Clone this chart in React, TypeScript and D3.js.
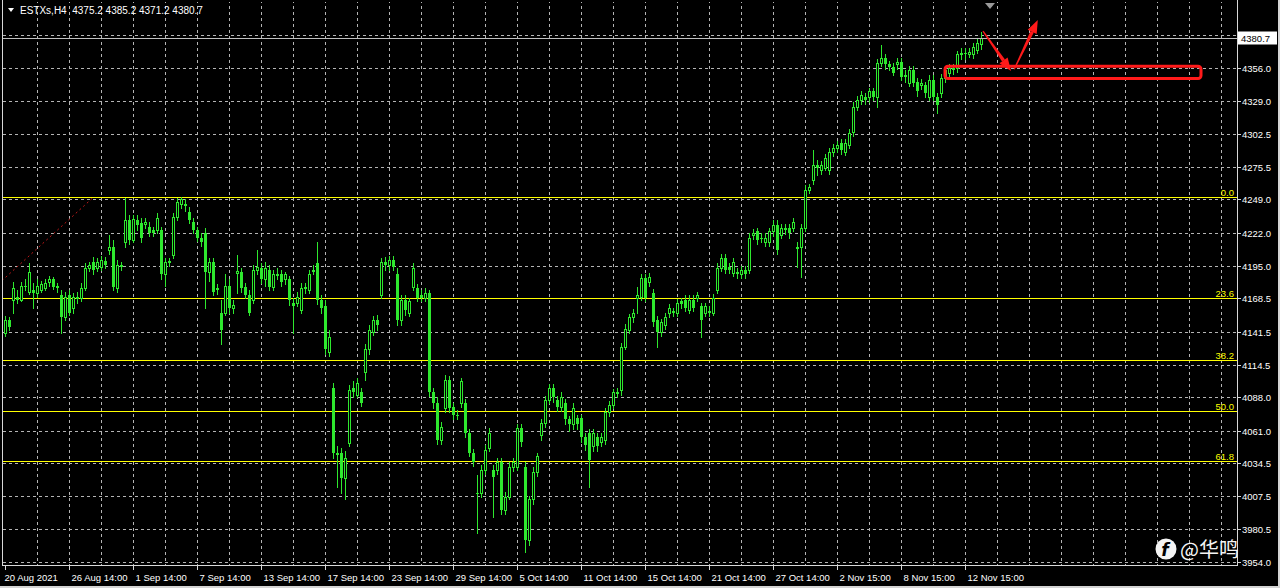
import React, { useEffect, useRef } from "react";
import * as d3 from "d3";

const symbol = "ESTXs";
const period = "H4";

// H4 candles, 20 Aug 2021 .. 12 Nov 2021
const opens = [
  4140, 4151, 4167, 4170, 4167, 4179, 4174, 4175, 4173, 4175,
  4177, 4182, 4184, 4179, 4171, 4153, 4171, 4161, 4170, 4169,
  4177, 4193, 4198, 4193, 4194, 4199, 4208, 4210, 4177, 4196,
  4214, 4232, 4216, 4232, 4230, 4229, 4227, 4224, 4224, 4224,
  4188, 4199, 4204, 4235, 4245, 4245, 4239, 4231, 4224, 4218,
  4222, 4190, 4198, 4177, 4157, 4157, 4179, 4161, 4189, 4190,
  4178, 4171, 4167, 4192, 4193, 4184, 4192, 4178, 4188, 4188,
  4184, 4184, 4165, 4165, 4159, 4178, 4175, 4191, 4197, 4167,
  4162, 4125, 4096, 4043, 4043, 4022, 4051, 4096, 4090, 4092,
  4109, 4127, 4141, 4151, 4171, 4198, 4196, 4200, 4188, 4151,
  4167, 4157, 4178, 4177, 4171, 4169, 4173, 4092, 4083, 4053,
  4079, 4102, 4080, 4074, 4083, 4083, 4059, 4043, 4010, 4010,
  4029, 4047, 4029, 4029, 4035, 3996, 4007, 4031, 4031, 4063,
  4031, 3972, 4005, 4027, 4057, 4067, 4086, 4096, 4086, 4080,
  4083, 4070, 4066, 4071, 4071, 4056, 4059, 4048, 4056, 4052,
  4053, 4076, 4082, 4092, 4094, 4129, 4143, 4153, 4169, 4170,
  4185, 4182, 4173, 4151, 4141, 4147, 4157, 4158, 4157, 4166,
  4167, 4159, 4167, 4169, 4162, 4157, 4158, 4157, 4175, 4193,
  4201, 4194, 4189, 4190, 4188, 4192, 4192, 4220, 4223, 4218,
  4214, 4214, 4223, 4228, 4220, 4226, 4226, 4226, 4210, 4210,
  4226, 4257, 4265, 4277, 4273, 4275, 4273, 4288, 4291, 4295,
  4288, 4293, 4304, 4324, 4330, 4332, 4332, 4337, 4332, 4360,
  4364, 4359, 4357, 4359, 4361, 4350, 4344, 4354, 4345, 4342,
  4342, 4332, 4346, 4332, 4336, 4348, 4352, 4356, 4356, 4367,
  4368, 4367, 4367, 4371, 4375.2,
];
const highs = [
  4154, 4153, 4182, 4175, 4182, 4184, 4197, 4181, 4184, 4183,
  4184, 4187, 4186, 4181, 4175, 4174, 4175, 4173, 4174, 4181,
  4197, 4198, 4202, 4201, 4203, 4202, 4220, 4216, 4200, 4198,
  4250, 4236, 4236, 4236, 4234, 4234, 4231, 4227, 4238, 4227,
  4201, 4201, 4238, 4250, 4251, 4249, 4243, 4234, 4227, 4222,
  4226, 4201, 4201, 4180, 4167, 4188, 4184, 4167, 4204, 4193,
  4181, 4175, 4196, 4208, 4197, 4198, 4196, 4192, 4193, 4192,
  4190, 4187, 4169, 4174, 4181, 4181, 4192, 4196, 4214, 4171,
  4167, 4143, 4100, 4048, 4047, 4044, 4098, 4101, 4104, 4096,
  4131, 4147, 4154, 4155, 4201, 4202, 4203, 4203, 4193, 4171,
  4171, 4169, 4197, 4180, 4175, 4177, 4175, 4096, 4088, 4068,
  4106, 4105, 4083, 4078, 4104, 4087, 4062, 4046, 4025, 4033,
  4049, 4063, 4033, 4039, 4039, 4011, 4035, 4039, 4066, 4066,
  4035, 4008, 4031, 4043, 4070, 4089, 4099, 4099, 4089, 4092,
  4087, 4073, 4083, 4074, 4074, 4059, 4062, 4062, 4059, 4059,
  4079, 4085, 4095, 4096, 4132, 4148, 4156, 4160, 4178, 4188,
  4188, 4189, 4176, 4154, 4152, 4157, 4164, 4161, 4168, 4169,
  4171, 4171, 4171, 4174, 4165, 4165, 4162, 4172, 4197, 4205,
  4205, 4197, 4201, 4193, 4195, 4195, 4222, 4225, 4226, 4222,
  4222, 4226, 4232, 4232, 4229, 4229, 4229, 4234, 4214, 4229,
  4261, 4262, 4289, 4281, 4280, 4286, 4291, 4294, 4297, 4298,
  4298, 4306, 4328, 4333, 4337, 4336, 4340, 4340, 4363, 4375,
  4367, 4362, 4360, 4364, 4364, 4354, 4358, 4358, 4348, 4347,
  4345, 4350, 4350, 4336, 4351, 4358, 4359, 4359, 4370, 4372,
  4372, 4372, 4376, 4380, 4385.2,
];
const lows = [
  4138, 4143, 4157, 4165, 4166, 4175, 4172, 4161, 4170, 4174,
  4175, 4179, 4176, 4174, 4140, 4151, 4155, 4157, 4165, 4166,
  4175, 4191, 4188, 4191, 4192, 4193, 4205, 4175, 4174, 4192,
  4210, 4213, 4214, 4224, 4214, 4226, 4219, 4219, 4222, 4184,
  4179, 4195, 4201, 4232, 4242, 4240, 4230, 4222, 4215, 4211,
  4161, 4183, 4171, 4172, 4131, 4155, 4157, 4157, 4173, 4174,
  4169, 4155, 4165, 4188, 4181, 4179, 4175, 4175, 4184, 4179,
  4180, 4163, 4140, 4162, 4157, 4173, 4173, 4188, 4164, 4157,
  4123, 4122, 4039, 4015, 4010, 4005, 4048, 4088, 4088, 4081,
  4102, 4123, 4139, 4143, 4169, 4192, 4192, 4192, 4147, 4147,
  4155, 4154, 4175, 4166, 4166, 4166, 4089, 4079, 4050, 4050,
  4076, 4076, 4070, 4070, 4080, 4056, 4040, 4032, 3978, 4007,
  4026, 4044, 3991, 4026, 3993, 3993, 4005, 4028, 4029, 4048,
  3962, 3968, 4001, 4024, 4053, 4064, 4083, 4084, 4077, 4077,
  4066, 4061, 4062, 4062, 4052, 4045, 4015, 4044, 4044, 4048,
  4050, 4073, 4079, 4088, 4090, 4127, 4140, 4149, 4157, 4167,
  4166, 4179, 4146, 4129, 4138, 4144, 4153, 4154, 4154, 4161,
  4158, 4157, 4158, 4166, 4137, 4154, 4154, 4155, 4173, 4191,
  4189, 4189, 4187, 4185, 4185, 4185, 4189, 4217, 4213, 4214,
  4211, 4211, 4219, 4205, 4218, 4221, 4218, 4223, 4194, 4186,
  4223, 4254, 4262, 4269, 4270, 4273, 4270, 4284, 4288, 4286,
  4285, 4291, 4301, 4322, 4327, 4327, 4328, 4330, 4324, 4358,
  4355, 4354, 4350, 4355, 4346, 4345, 4341, 4341, 4333, 4339,
  4332, 4330, 4330, 4319, 4332, 4345, 4349, 4351, 4353, 4363,
  4363, 4365, 4364, 4368, 4371.2,
];
const closes = [
  4151, 4145, 4177, 4167, 4179, 4178, 4190, 4173, 4179, 4180,
  4181, 4184, 4178, 4177, 4153, 4170, 4157, 4170, 4168, 4177,
  4193, 4196, 4192, 4198, 4200, 4196, 4210, 4178, 4196, 4194,
  4232, 4216, 4233, 4228, 4218, 4231, 4222, 4222, 4234, 4188,
  4198, 4197, 4235, 4247, 4249, 4244, 4232, 4224, 4218, 4214,
  4190, 4198, 4174, 4175, 4143, 4179, 4161, 4163, 4191, 4177,
  4171, 4157, 4192, 4194, 4184, 4193, 4178, 4188, 4187, 4182,
  4188, 4167, 4162, 4170, 4177, 4176, 4188, 4192, 4167, 4161,
  4127, 4137, 4043, 4041, 4022, 4039, 4094, 4092, 4100, 4083,
  4127, 4143, 4151, 4147, 4198, 4196, 4200, 4194, 4151, 4167,
  4159, 4166, 4193, 4169, 4169, 4173, 4092, 4083, 4053, 4064,
  4102, 4079, 4074, 4073, 4101, 4059, 4043, 4035, 4009, 4029,
  4045, 4059, 4023, 4035, 3996, 4007, 4031, 4035, 4063, 4052,
  3972, 4005, 4027, 4040, 4067, 4086, 4096, 4088, 4080, 4088,
  4070, 4066, 4079, 4066, 4056, 4049, 4037, 4059, 4048, 4056,
  4076, 4082, 4092, 4091, 4129, 4144, 4153, 4157, 4171, 4185,
  4169, 4186, 4149, 4141, 4149, 4153, 4161, 4157, 4165, 4164,
  4161, 4167, 4161, 4171, 4151, 4162, 4157, 4169, 4193, 4201,
  4192, 4192, 4198, 4188, 4192, 4188, 4218, 4222, 4216, 4217,
  4218, 4223, 4228, 4208, 4226, 4224, 4222, 4231, 4209, 4226,
  4257, 4259, 4277, 4275, 4277, 4283, 4288, 4291, 4293, 4289,
  4295, 4303, 4324, 4330, 4334, 4330, 4337, 4332, 4360, 4364,
  4359, 4357, 4352, 4361, 4349, 4349, 4354, 4344, 4337, 4344,
  4336, 4346, 4332, 4326, 4348, 4354, 4356, 4354, 4367, 4368,
  4367, 4369, 4373, 4376, 4380.7,
];

// one label every 16 bars
const timeLabels = [
  "20 Aug 2021", "26 Aug 14:00", "1 Sep 14:00", "7 Sep 14:00", "13 Sep 14:00",
  "17 Sep 14:00", "23 Sep 14:00", "29 Sep 14:00", "5 Oct 14:00", "11 Oct 14:00",
  "15 Oct 14:00", "21 Oct 14:00", "27 Oct 14:00", "2 Nov 15:00", "8 Nov 15:00",
  "12 Nov 15:00",
];
const priceTicks = [
  3954.0, 3980.5, 4007.5, 4034.5, 4061.0, 4088.0, 4114.5, 4141.5,
  4168.5, 4195.0, 4222.0, 4249.0, 4275.5, 4302.5, 4329.0, 4356.0,
];
const topGridPrice = 4383.0;

// fibonacci retracement
const fibLevels = [0.0, 23.6, 38.2, 50.0, 61.8];
const fibHigh = 4251;
const fibLow = 3903;
const fibTrend = [[-10, 4155.5], [22, 4250.5]];

// hand drawn red marks
const zoneBars = [235, 299];
const zonePrices = [4347.5, 4357.5];
const arrowDown = [[244.5, 4386], [251.5, 4353.5]];
const arrowUp = [[252.3, 4355], [258.2, 4395]];

const App: React.FC = () => {
  const svgRef = useRef<SVGSVGElement>(null);

  useEffect(() => {
    const svg = d3.select(svgRef.current);
    svg.selectAll("*").remove();

    const width = 1280;
    const height = 588;
    const left = 3;
    const right = 1237;
    const top = 2;
    const bottom = 565;
    const green = "#2ee82e";
    const gridColor = "#b4b4b4";
    const font = "'Liberation Sans', Arial, sans-serif";

    const n = opens.length;
    const xScale = d3.scaleLinear().domain([0, n - 1]).range([5, 5 + 4 * (n - 1)]);
    const yScale = d3.scaleLinear().domain([3954, 4356]).range([562, 68]);
    const py = (v: number) => Math.round(yScale(v)) + 0.5;

    svg.append("rect").attr("width", width).attr("height", height).attr("fill", "#000");

    svg
      .append("defs")
      .append("clipPath")
      .attr("id", "plot-clip")
      .append("rect")
      .attr("x", left)
      .attr("y", top)
      .attr("width", right - left)
      .attr("height", bottom - top);

    const plot = svg.append("g").attr("clip-path", "url(#plot-clip)");

    // grid
    [...priceTicks, topGridPrice].forEach((v) => {
      plot
        .append("line")
        .attr("x1", left)
        .attr("x2", right)
        .attr("y1", py(v))
        .attr("y2", py(v))
        .attr("stroke", gridColor)
        .attr("stroke-dasharray", "3,3");
    });
    for (let b = 8; xScale(b) < right; b += 8) {
      const gx = Math.round(xScale(b)) + 0.5;
      plot
        .append("line")
        .attr("x1", gx)
        .attr("x2", gx)
        .attr("y1", 0)
        .attr("y2", bottom)
        .attr("stroke", gridColor)
        .attr("stroke-dasharray", "3,3");
    }

    // fib trend line (red dots)
    plot
      .append("line")
      .attr("x1", xScale(fibTrend[0][0]))
      .attr("y1", yScale(fibTrend[0][1]))
      .attr("x2", xScale(fibTrend[1][0]))
      .attr("y2", yScale(fibTrend[1][1]))
      .attr("stroke", "#c01818")
      .attr("stroke-dasharray", "2,3");

    // fib levels
    fibLevels.forEach((lvl) => {
      const v = fibHigh - (lvl / 100) * (fibHigh - fibLow);
      const ly = py(v);
      plot
        .append("line")
        .attr("x1", left)
        .attr("x2", right)
        .attr("y1", ly)
        .attr("y2", ly)
        .attr("stroke", "#ffff00");
      plot
        .append("text")
        .attr("x", right - 3)
        .attr("y", ly - 2)
        .attr("text-anchor", "end")
        .attr("font-family", font)
        .attr("font-size", 9.5)
        .attr("fill", "#ffff00")
        .text(lvl.toFixed(1));
    });

    // candles
    const bars = plot.append("g");
    d3.range(n).forEach((i) => {
      const cx = Math.round(xScale(i));
      const o = opens[i];
      const c = closes[i];
      bars
        .append("line")
        .attr("x1", cx + 0.5)
        .attr("x2", cx + 0.5)
        .attr("y1", Math.round(yScale(highs[i])))
        .attr("y2", Math.round(yScale(lows[i])) + 1)
        .attr("stroke", green);
      const yTop = Math.round(yScale(Math.max(o, c)));
      const yBot = Math.round(yScale(Math.min(o, c)));
      if (c >= o) {
        bars
          .append("rect")
          .attr("x", cx - 0.5)
          .attr("y", yTop + 0.5)
          .attr("width", 2)
          .attr("height", Math.max(yBot - yTop, 0))
          .attr("fill", "#000")
          .attr("stroke", green);
      } else {
        bars
          .append("rect")
          .attr("x", cx - 1)
          .attr("y", yTop)
          .attr("width", 3)
          .attr("height", Math.max(yBot - yTop, 1))
          .attr("fill", green);
      }
    });

    // current price line
    const last = closes[n - 1];
    plot
      .append("line")
      .attr("x1", left)
      .attr("x2", right)
      .attr("y1", py(last))
      .attr("y2", py(last))
      .attr("stroke", "#c0c0c0");

    // red annotations
    const red = "#ff1a1a";
    plot
      .append("rect")
      .attr("x", xScale(zoneBars[0]))
      .attr("y", yScale(zonePrices[1]))
      .attr("width", xScale(zoneBars[1]) - xScale(zoneBars[0]))
      .attr("height", yScale(zonePrices[0]) - yScale(zonePrices[1]))
      .attr("rx", 3)
      .attr("fill", "none")
      .attr("stroke", red)
      .attr("stroke-width", 3);

    const drawArrow = (pts: number[][]) => {
      const x1 = xScale(pts[0][0]);
      const y1 = yScale(pts[0][1]);
      const x2 = xScale(pts[1][0]);
      const y2 = yScale(pts[1][1]);
      const ang = Math.atan2(y2 - y1, x2 - x1);
      const len = 13;
      const half = 5;
      const bx = x2 - Math.cos(ang) * len;
      const by = y2 - Math.sin(ang) * len;
      const nx = -Math.sin(ang);
      const ny = Math.cos(ang);
      plot
        .append("path")
        .attr(
          "d",
          `M${x1 - nx * 0.6},${y1 - ny * 0.6}L${bx - nx * 1.8},${by - ny * 1.8}L${bx + nx * 1.8},${by + ny * 1.8}L${x1 + nx * 0.6},${y1 + ny * 0.6}Z`
        )
        .attr("fill", red);
      plot
        .append("path")
        .attr("d", `M${x2},${y2}L${bx + nx * half},${by + ny * half}L${bx - nx * half},${by - ny * half}Z`)
        .attr("fill", red);
    };
    drawArrow(arrowDown);
    drawArrow(arrowUp);

    // frame
    const frame = svg.append("g").attr("stroke", "#d8d8d8").attr("fill", "none");
    frame.append("line").attr("x1", 2.5).attr("x2", 2.5).attr("y1", 0).attr("y2", bottom + 1);
    frame.append("line").attr("x1", 2).attr("x2", right + 1).attr("y1", bottom + 0.5).attr("y2", bottom + 0.5);
    frame.append("line").attr("x1", right + 0.5).attr("x2", right + 0.5).attr("y1", 0).attr("y2", bottom + 1);

    // price axis
    priceTicks.forEach((v) => {
      const ty = py(v);
      svg
        .append("line")
        .attr("x1", right)
        .attr("x2", right + 4)
        .attr("y1", ty)
        .attr("y2", ty)
        .attr("stroke", "#d8d8d8");
      svg
        .append("text")
        .attr("x", right + 5)
        .attr("y", ty + 3.5)
        .attr("font-family", font)
        .attr("font-size", 9.5)
        .attr("fill", "#ffffff")
        .text(v.toFixed(1));
    });
    const lastY = py(last);
    svg
      .append("rect")
      .attr("x", right + 1)
      .attr("y", lastY - 7)
      .attr("width", 39)
      .attr("height", 13)
      .attr("fill", "#ffffff");
    svg
      .append("text")
      .attr("x", right + 4)
      .attr("y", lastY + 3.5)
      .attr("font-family", font)
      .attr("font-size", 9.5)
      .attr("fill", "#000000")
      .text(last.toFixed(1));

    // time axis
    timeLabels.forEach((lab, j) => {
      const tx = Math.round(xScale(j * 16)) + 0.5;
      svg
        .append("line")
        .attr("x1", tx)
        .attr("x2", tx)
        .attr("y1", bottom)
        .attr("y2", bottom + 5)
        .attr("stroke", "#d8d8d8");
      svg
        .append("text")
        .attr("x", j === 0 ? tx - 1 : tx + 2)
        .attr("y", bottom + 16)
        .attr("font-family", font)
        .attr("font-size", 9.5)
        .attr("fill", "#ffffff")
        .text(lab);
    });

    // chart shift marker
    const sx = xScale(n - 1) + 9;
    svg
      .append("path")
      .attr("d", `M${sx - 5},3L${sx + 5},3L${sx},9Z`)
      .attr("fill", "#9a9a9a");

    // header
    svg.append("path").attr("d", "M8,8L14,8L11,12Z").attr("fill", "#ffffff");
    svg
      .append("text")
      .attr("x", 20)
      .attr("y", 14)
      .attr("font-family", font)
      .attr("font-size", 10)
      .attr("fill", "#ffffff")
      .style("white-space", "pre")
      .text(
        `${symbol},${period}  ${opens[n - 1].toFixed(1)} ${highs[n - 1].toFixed(1)} ${lows[n - 1].toFixed(1)} ${closes[n - 1].toFixed(1)}`
      );

    // watermark (kept just left of the price labels)
    svg.append("circle").attr("cx", 1166).attr("cy", 549).attr("r", 10.5).attr("fill", "#f4f4f4");
    svg
      .append("text")
      .attr("x", 1165)
      .attr("y", 555.5)
      .attr("text-anchor", "middle")
      .attr("font-family", "'DejaVu Sans', sans-serif")
      .attr("font-weight", "bold")
      .attr("font-style", "italic")
      .attr("font-size", 17)
      .attr("fill", "#000")
      .text("f");
    svg
      .append("text")
      .attr("x", 1239)
      .attr("y", 557)
      .attr("text-anchor", "end")
      .attr("font-family", "'Noto Sans CJK SC', sans-serif")
      .attr("font-size", 20)
      .attr("fill", "#f4f4f4")
      .text("@华鸣");

    // window edge
    svg.append("rect").attr("x", 0).attr("y", 586).attr("width", width).attr("height", 2).attr("fill", "#d4d4d4");
    svg.append("rect").attr("x", 1278).attr("y", 0).attr("width", 2).attr("height", height).attr("fill", "#d4d4d4");

    return () => {
      svg.selectAll("*").remove();
    };
  }, []);

  return (
    <svg
      ref={svgRef}
      width={1280}
      height={588}
      style={{ position: "fixed", left: 0, top: 0, display: "block" }}
    />
  );
};

export default App;
